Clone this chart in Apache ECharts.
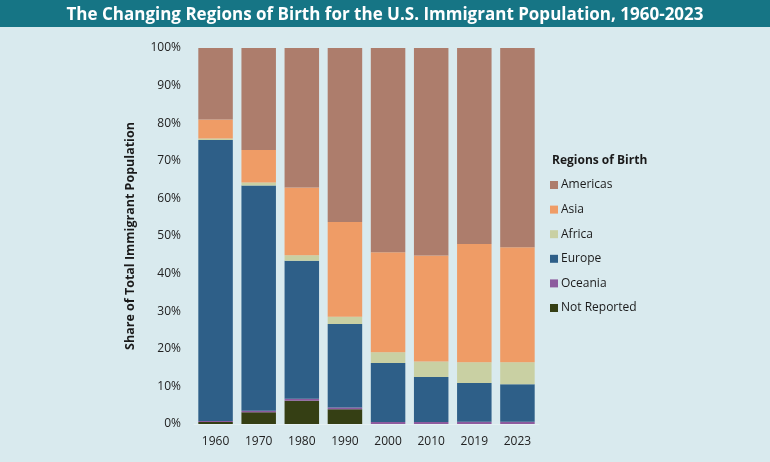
<!DOCTYPE html>
<html><head><meta charset="utf-8">
<script src="https://cdn.jsdelivr.net/npm/echarts@6/dist/echarts.min.js"></script>
<style>html,body{margin:0;padding:0;background:#d9eaee;}#c{width:770px;height:462px;}</style>
</head><body><div id="c"></div>
<script>
const years = ['1960','1970','1980','1990','2000','2010','2019','2023'];
const notReported = [0.5, 3.1, 6.2, 3.9, 0, 0, 0, 0];
const oceania     = [0.3, 0.4, 0.5, 0.5, 0.5, 0.5, 0.6, 0.6];
const europe      = [74.7, 59.9, 36.7, 22.2, 15.7, 12.0, 10.3, 10.0];
const africa      = [0.4, 0.8, 1.5, 1.9, 2.9, 4.1, 5.5, 5.8];
const asia        = [5.1, 8.7, 18.0, 25.2, 26.6, 28.2, 31.5, 30.6];
const americas    = [19.0, 27.1, 37.1, 46.3, 54.3, 55.2, 52.1, 53.0];
const yTicks = [0,10,20,30,40,50,60,70,80,90,100];
const legendOrder = ['Americas','Asia','Africa','Europe','Oceania','Not Reported'];

const colors = {
  'Not Reported':'#353f14', 'Oceania':'#8d5b9e', 'Europe':'#2e5f88',
  'Africa':'#c9d0a3', 'Asia':'#ef9c66', 'Americas':'#ad7d6c'
};
const seriesDefs = [
  ['Not Reported', notReported], ['Oceania', oceania], ['Europe', europe],
  ['Africa', africa], ['Asia', asia], ['Americas', americas]
];
const FF = '"Open Sans", "Noto Sans", sans-serif';
const chart = echarts.init(document.getElementById('c'));
chart.setOption({
  backgroundColor: '#d9eaee',
  animation: false,
  graphic: [{
    type: 'rect', left: 0, top: 0, shape: {width: 770, height: 27},
    style: {fill: '#167585'}, z: 0
  }],
  title: [{
    text: 'The Changing Regions of Birth for the U.S. Immigrant Population, 1960-2023',
    left: 'center', top: 2,
    textStyle: {color: '#fff', fontFamily: FF, fontWeight: 'bold', fontSize: 17}
  }, {
    text: 'Regions of Birth', left: 547, top: 150,
    textStyle: {color: '#1a1a1a', fontFamily: FF, fontWeight: 'bold', fontSize: 12}
  }],
  legend: {
    data: legendOrder, orient: 'vertical', left: 545, top: 174,
    itemWidth: 8, itemHeight: 8, itemGap: 12.6, icon: 'rect',
    textStyle: {color: '#1a1a1a', fontFamily: FF, fontSize: 12, padding: [0,0,0,-2]}
  },
  grid: {left: 194, width: 345, top: 48, height: 376},
  xAxis: {
    type: 'category', data: years,
    axisLine: {show: true, lineStyle: {color: '#e6f1f3', width: 1}},
    axisTick: {show: false},
    axisLabel: {color: '#222', fontFamily: FF, fontSize: 12, margin: 12}
  },
  yAxis: {
    type: 'value', min: 0, max: 100, interval: 10,
    name: 'Share of Total Immigrant Population', nameLocation: 'middle', nameGap: 57,
    nameTextStyle: {color: '#1a1a1a', fontFamily: FF, fontWeight: 'bold', fontSize: 12.5},
    axisLine: {show: false}, axisTick: {show: false}, splitLine: {show: false},
    axisLabel: {color: '#222', fontFamily: FF, fontSize: 12, margin: 13,
      formatter: v => yTicks.includes(v) ? v + '%' : ''}
  },
  series: seriesDefs.map(([name, vals]) => ({
    name, type: 'bar', stack: 'total', data: vals, barCategoryGap: '20%',
    itemStyle: {color: colors[name]}
  }))
});
</script></body></html>
